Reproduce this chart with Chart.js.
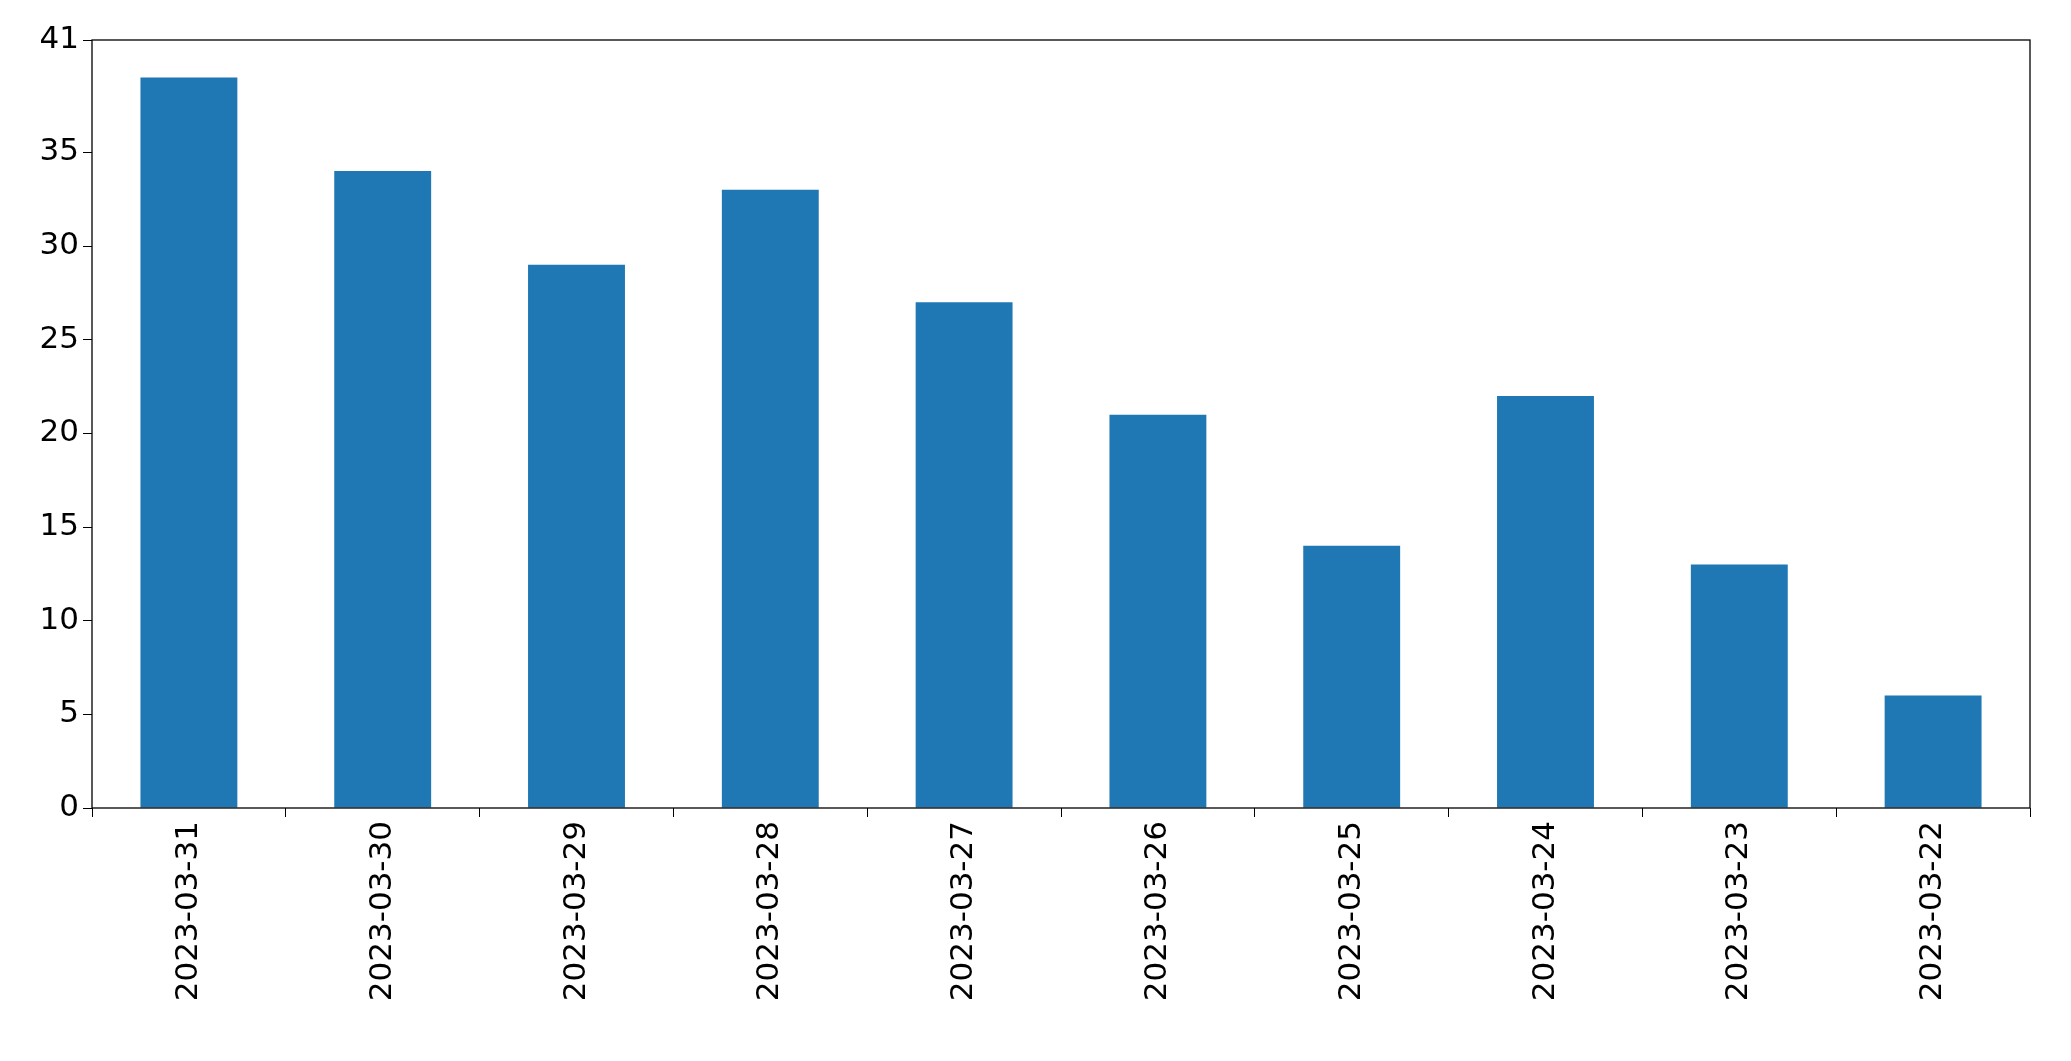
<!DOCTYPE html>
<html>
<head>
<meta charset="utf-8">
<script src="https://cdn.jsdelivr.net/npm/chart.js@4"></script>
<style>
    html, body { margin: 0; padding: 0; background: #fff; }
    #wrap { width: 2071px; height: 1061px; }
</style>
</head>
<body>
<div id="wrap"><canvas id="chart" width="2071" height="1061"></canvas></div>
<script>
// Data
const dates = ['2023-03-31', '2023-03-30', '2023-03-29', '2023-03-28', '2023-03-27',
               '2023-03-26', '2023-03-25', '2023-03-24', '2023-03-23', '2023-03-22'];
const counts = [39, 34, 29, 33, 27, 21, 14, 22, 13, 6];

// Frame around the plot area, like matplotlib spines
const frame = {
    id: 'frame',
    afterDraw(chart) {
        const a = chart.chartArea, ctx = chart.ctx;
        ctx.save();
        ctx.strokeStyle = '#000';
        ctx.lineWidth = 1.3;
        ctx.strokeRect(a.left, a.top, a.right - a.left, a.bottom - a.top);
        ctx.restore();
    }
};

new Chart(document.getElementById('chart').getContext('2d'), {
    type: 'bar',
    data: {
        labels: dates,
        datasets: [{
            data: counts,
            backgroundColor: '#1f77b4',
            barPercentage: 0.5,
            categoryPercentage: 1.0
        }]
    },
    options: {
        responsive: false,
        animation: false,
        layout: { padding: { top: 40, right: 41, left: 0, bottom: 0 } },
        plugins: { legend: { display: false }, tooltip: { enabled: false } },
        scales: {
            x: {
                grid: { drawOnChartArea: false, color: '#000', tickLength: 9 },
                border: { display: false },
                ticks: {
                    color: '#000', minRotation: 90, maxRotation: 90,
                    font: { family: 'DejaVu Sans', size: 31 }, padding: 4
                },
                afterFit(s) { s.height = 253; }
            },
            y: {
                min: 0, max: 41,
                grid: { drawOnChartArea: false, color: '#000', tickLength: 9 },
                border: { display: false },
                ticks: {
                    stepSize: 5, color: '#000',
                    font: { family: 'DejaVu Sans', size: 31 }, padding: 4
                },
                afterFit(s) { s.width = 92; }
            }
        }
    },
    plugins: [frame]
});
</script>
</body>
</html>
